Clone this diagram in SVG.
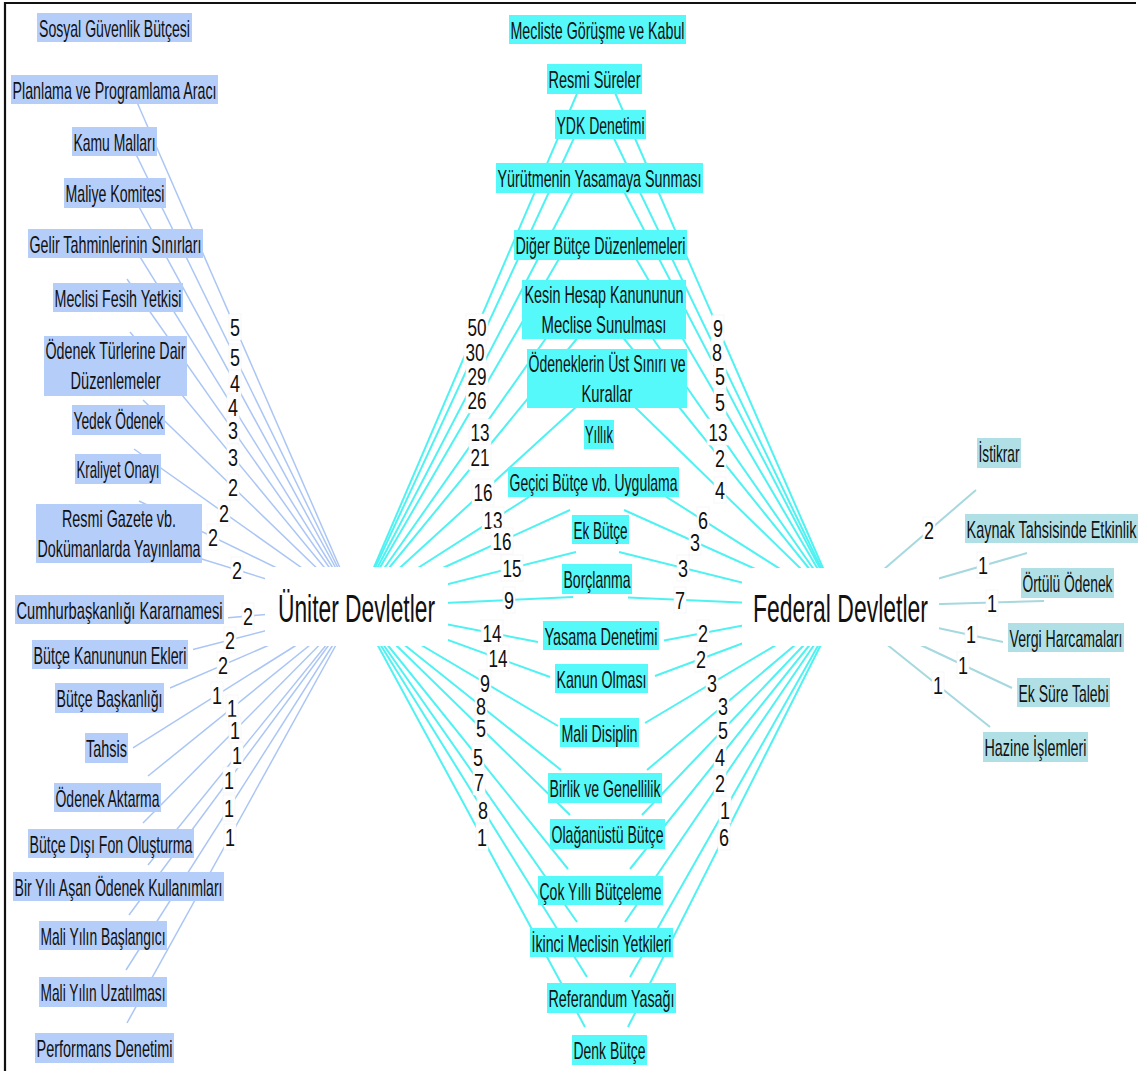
<svg xmlns="http://www.w3.org/2000/svg" width="1140" height="1071" viewBox="0 0 1140 1071">
<style>
.nl{fill:#b5cdf9}
.nc{fill:#55f9f9}
.nr{fill:#b0e0e6}
.t{font-family:"Liberation Sans",Arial,sans-serif;font-size:24px;fill:#111;text-anchor:middle}
.h{font-family:"Liberation Sans",Arial,sans-serif;font-size:39px;fill:#111;text-anchor:middle}
.el{stroke:#abc6f5;stroke-width:1.5;fill:none}
.ec{stroke:#4ff2f2;stroke-width:2;fill:none}
.er{stroke:#a6d8df;stroke-width:2;fill:none}
.lb{fill:#fff;stroke:#f0f0f0;stroke-width:0.6}
.lt{font-family:"Liberation Sans",Arial,sans-serif;font-size:24px;fill:#111;text-anchor:middle}
</style>
<rect x="0" y="0" width="1140" height="1071" fill="#fff"/>
<path d="M5,1071 V3 H1136" fill="none" stroke="#111" stroke-width="2.2"/>
<g id="connectors">
<g class="el">
<line x1="131.7" y1="90" x2="357" y2="607"/>
<line x1="130" y1="142" x2="357" y2="607"/>
<line x1="131.5" y1="193" x2="357" y2="607"/>
<line x1="132" y1="244" x2="357" y2="607"/>
<line x1="127" y1="279" x2="357" y2="607"/>
<line x1="130" y1="332" x2="357" y2="607"/>
<line x1="143" y1="400" x2="357" y2="607"/>
<line x1="134" y1="449" x2="357" y2="607"/>
<line x1="139" y1="501" x2="357" y2="607"/>
<line x1="192" y1="556" x2="357" y2="607"/>
<line x1="228" y1="617.7" x2="357" y2="607"/>
<line x1="193" y1="649.6" x2="357" y2="607"/>
<line x1="170" y1="688" x2="357" y2="607"/>
<line x1="133" y1="747.8" x2="357" y2="607"/>
<line x1="148" y1="776" x2="357" y2="607"/>
<line x1="143" y1="823" x2="357" y2="607"/>
<line x1="148" y1="865" x2="357" y2="607"/>
<line x1="129" y1="915" x2="357" y2="607"/>
<line x1="126" y1="970" x2="357" y2="607"/>
<line x1="127" y1="1023" x2="357" y2="607"/>
</g>
<g class="ec">
<line x1="583.3" y1="79" x2="357" y2="607"/>
<line x1="580.5" y1="124" x2="357" y2="607"/>
<line x1="580" y1="178" x2="357" y2="607"/>
<line x1="567" y1="245" x2="357" y2="607"/>
<line x1="572.8" y1="300" x2="357" y2="607"/>
<line x1="584" y1="330" x2="357" y2="607"/>
<line x1="583.7" y1="400" x2="357" y2="607"/>
<line x1="571" y1="470" x2="357" y2="607"/>
<line x1="570" y1="510" x2="357" y2="607"/>
<line x1="576" y1="552" x2="357" y2="607"/>
<line x1="573" y1="597" x2="357" y2="607"/>
<line x1="538" y1="642" x2="357" y2="607"/>
<line x1="550" y1="677" x2="357" y2="607"/>
<line x1="558" y1="726" x2="357" y2="607"/>
<line x1="561" y1="770" x2="357" y2="607"/>
<line x1="570" y1="815" x2="357" y2="607"/>
<line x1="568" y1="869" x2="357" y2="607"/>
<line x1="577" y1="922" x2="357" y2="607"/>
<line x1="587" y1="977" x2="357" y2="607"/>
<line x1="585" y1="1027" x2="357" y2="607"/>
<line x1="609" y1="79" x2="840" y2="607"/>
<line x1="607" y1="124" x2="840" y2="607"/>
<line x1="617" y1="178" x2="840" y2="607"/>
<line x1="628" y1="245" x2="840" y2="607"/>
<line x1="626" y1="300" x2="840" y2="607"/>
<line x1="617" y1="330" x2="840" y2="607"/>
<line x1="627.7" y1="400" x2="840" y2="607"/>
<line x1="624" y1="470" x2="840" y2="607"/>
<line x1="624" y1="510" x2="840" y2="607"/>
<line x1="619" y1="552" x2="840" y2="607"/>
<line x1="628" y1="597.5" x2="840" y2="607"/>
<line x1="664" y1="640.4" x2="840" y2="607"/>
<line x1="655" y1="676" x2="840" y2="607"/>
<line x1="645" y1="723" x2="840" y2="607"/>
<line x1="647" y1="770" x2="840" y2="607"/>
<line x1="642" y1="815" x2="840" y2="607"/>
<line x1="630" y1="869" x2="840" y2="607"/>
<line x1="625" y1="922" x2="840" y2="607"/>
<line x1="630" y1="977" x2="840" y2="607"/>
<line x1="628" y1="1027" x2="840" y2="607"/>
</g>
<g class="er">
<line x1="840" y1="607" x2="976" y2="490"/>
<line x1="840" y1="607" x2="1027" y2="553"/>
<line x1="840" y1="607" x2="1044" y2="601"/>
<line x1="840" y1="607" x2="1003" y2="642"/>
<line x1="840" y1="607" x2="1012" y2="688"/>
<line x1="840" y1="607" x2="990" y2="727"/>
</g>
</g>
<g id="hub-uniter">
<rect x="265" y="567" width="183" height="79" fill="#fff"/>
<text class="h" x="356.5" y="622" textLength="157" lengthAdjust="spacingAndGlyphs">Üniter Devletler</text>
</g>
<g id="hub-federal">
<rect x="742" y="568" width="197" height="78" fill="#fff"/>
<text class="h" x="840.5" y="622" textLength="175" lengthAdjust="spacingAndGlyphs">Federal Devletler</text>
</g>
<g id="n-sosyal"><rect class="nl" x="37" y="13" width="155" height="29"/><text class="t" x="114.5" y="36.5" textLength="151" lengthAdjust="spacingAndGlyphs">Sosyal Güvenlik Bütçesi</text></g>
<g id="n-planlama"><rect class="nl" x="11" y="75" width="207" height="29"/><text class="t" x="114.5" y="98.5" textLength="204" lengthAdjust="spacingAndGlyphs">Planlama ve Programlama Aracı</text></g>
<g id="n-kamu"><rect class="nl" x="72" y="127" width="85" height="29"/><text class="t" x="114.5" y="150.5" textLength="82" lengthAdjust="spacingAndGlyphs">Kamu Malları</text></g>
<g id="n-maliye"><rect class="nl" x="64" y="178" width="102" height="30"/><text class="t" x="115" y="201.5" textLength="99" lengthAdjust="spacingAndGlyphs">Maliye Komitesi</text></g>
<g id="n-gelir"><rect class="nl" x="28" y="229" width="175" height="29"/><text class="t" x="115.5" y="252.5" textLength="172" lengthAdjust="spacingAndGlyphs">Gelir Tahminlerinin Sınırları</text></g>
<g id="n-fesih"><rect class="nl" x="53" y="283" width="130" height="29"/><text class="t" x="118" y="306.5" textLength="127" lengthAdjust="spacingAndGlyphs">Meclisi Fesih Yetkisi</text></g>
<g id="n-odenek-turleri"><rect class="nl" x="44" y="336" width="143" height="60"/><text class="t" x="115.5" y="358.5" textLength="140" lengthAdjust="spacingAndGlyphs">Ödenek Türlerine Dair</text><text class="t" x="115.5" y="389" textLength="90" lengthAdjust="spacingAndGlyphs">Düzenlemeler</text></g>
<g id="n-yedek"><rect class="nl" x="72" y="405" width="93" height="30"/><text class="t" x="118.5" y="428.5" textLength="90" lengthAdjust="spacingAndGlyphs">Yedek Ödenek</text></g>
<g id="n-kraliyet"><rect class="nl" x="75" y="454" width="86" height="30"/><text class="t" x="118" y="477.5" textLength="83" lengthAdjust="spacingAndGlyphs">Kraliyet Onayı</text></g>
<g id="n-resmi-gazete"><rect class="nl" x="36" y="504" width="166" height="59"/><text class="t" x="119" y="527" textLength="114" lengthAdjust="spacingAndGlyphs">Resmi Gazete vb.</text><text class="t" x="119" y="557" textLength="163" lengthAdjust="spacingAndGlyphs">Dokümanlarda Yayınlama</text></g>
<g id="n-cbk"><rect class="nl" x="15" y="595" width="209" height="29"/><text class="t" x="119.5" y="618.5" textLength="206" lengthAdjust="spacingAndGlyphs">Cumhurbaşkanlığı Kararnamesi</text></g>
<g id="n-ekler"><rect class="nl" x="32" y="640" width="156" height="29"/><text class="t" x="110" y="663.5" textLength="153" lengthAdjust="spacingAndGlyphs">Bütçe Kanununun Ekleri</text></g>
<g id="n-baskanlik"><rect class="nl" x="55" y="683" width="109" height="30"/><text class="t" x="109.5" y="706.5" textLength="106" lengthAdjust="spacingAndGlyphs">Bütçe Başkanlığı</text></g>
<g id="n-tahsis"><rect class="nl" x="85" y="733" width="43" height="30"/><text class="t" x="106.5" y="756.5" textLength="41" lengthAdjust="spacingAndGlyphs">Tahsis</text></g>
<g id="n-aktarma"><rect class="nl" x="54" y="783" width="107" height="29"/><text class="t" x="107.5" y="806.5" textLength="104" lengthAdjust="spacingAndGlyphs">Ödenek Aktarma</text></g>
<g id="n-fon"><rect class="nl" x="28" y="829" width="166" height="29"/><text class="t" x="111" y="852.5" textLength="163" lengthAdjust="spacingAndGlyphs">Bütçe Dışı Fon Oluşturma</text></g>
<g id="n-bir-yil"><rect class="nl" x="13" y="872" width="211" height="29"/><text class="t" x="118.5" y="895.5" textLength="208" lengthAdjust="spacingAndGlyphs">Bir Yılı Aşan Ödenek Kullanımları</text></g>
<g id="n-baslangic"><rect class="nl" x="39" y="921" width="128" height="29"/><text class="t" x="103" y="944.5" textLength="125" lengthAdjust="spacingAndGlyphs">Mali Yılın Başlangıcı</text></g>
<g id="n-uzatilma"><rect class="nl" x="39" y="977" width="128" height="30"/><text class="t" x="103" y="1000.5" textLength="125" lengthAdjust="spacingAndGlyphs">Mali Yılın Uzatılması</text></g>
<g id="n-performans"><rect class="nl" x="35" y="1033" width="139" height="30"/><text class="t" x="104.5" y="1056.5" textLength="136" lengthAdjust="spacingAndGlyphs">Performans Denetimi</text></g>
<g id="n-mecliste"><rect class="nc" x="509" y="15" width="177" height="29"/><text class="t" x="597.5" y="38.5" textLength="174" lengthAdjust="spacingAndGlyphs">Mecliste Görüşme ve Kabul</text></g>
<g id="n-resmi-sureler"><rect class="nc" x="547" y="64" width="95" height="30"/><text class="t" x="594.5" y="87.5" textLength="92" lengthAdjust="spacingAndGlyphs">Resmi Süreler</text></g>
<g id="n-ydk"><rect class="nc" x="555" y="110" width="91" height="29"/><text class="t" x="600.5" y="133.5" textLength="88" lengthAdjust="spacingAndGlyphs">YDK Denetimi</text></g>
<g id="n-yurutme"><rect class="nc" x="496" y="163" width="207" height="30"/><text class="t" x="599.5" y="186.5" textLength="204" lengthAdjust="spacingAndGlyphs">Yürütmenin Yasamaya Sunması</text></g>
<g id="n-diger"><rect class="nc" x="514" y="230" width="173" height="30"/><text class="t" x="600.5" y="253.5" textLength="170" lengthAdjust="spacingAndGlyphs">Diğer Bütçe Düzenlemeleri</text></g>
<g id="n-kesin"><rect class="nc" x="522" y="280" width="164" height="59"/><text class="t" x="604" y="302.5" textLength="159" lengthAdjust="spacingAndGlyphs">Kesin Hesap Kanununun</text><text class="t" x="604" y="333" textLength="125" lengthAdjust="spacingAndGlyphs">Meclise Sunulması</text></g>
<g id="n-ust-sinir"><rect class="nc" x="527" y="349" width="160" height="59"/><text class="t" x="607" y="372" textLength="157" lengthAdjust="spacingAndGlyphs">Ödeneklerin Üst Sınırı ve</text><text class="t" x="607" y="402" textLength="51" lengthAdjust="spacingAndGlyphs">Kurallar</text></g>
<g id="n-yillik"><rect class="nc" x="584" y="420" width="30" height="29"/><text class="t" x="599" y="442.5" textLength="28" lengthAdjust="spacingAndGlyphs">Yıllık</text></g>
<g id="n-gecici"><rect class="nc" x="508" y="467" width="171" height="30"/><text class="t" x="593.5" y="490.5" textLength="168" lengthAdjust="spacingAndGlyphs">Geçici Bütçe vb. Uygulama</text></g>
<g id="n-ek-butce"><rect class="nc" x="572" y="515" width="57" height="29"/><text class="t" x="600.5" y="538.5" textLength="54" lengthAdjust="spacingAndGlyphs">Ek Bütçe</text></g>
<g id="n-borclanma"><rect class="nc" x="562" y="564" width="70" height="30"/><text class="t" x="597" y="587.5" textLength="67" lengthAdjust="spacingAndGlyphs">Borçlanma</text></g>
<g id="n-yasama"><rect class="nc" x="543" y="621" width="116" height="29"/><text class="t" x="601" y="644.5" textLength="113" lengthAdjust="spacingAndGlyphs">Yasama Denetimi</text></g>
<g id="n-kanun"><rect class="nc" x="555" y="664" width="93" height="29"/><text class="t" x="601.5" y="687.5" textLength="90" lengthAdjust="spacingAndGlyphs">Kanun Olması</text></g>
<g id="n-mali-disiplin"><rect class="nc" x="560" y="718" width="79" height="29"/><text class="t" x="599.5" y="741.5" textLength="76" lengthAdjust="spacingAndGlyphs">Mali Disiplin</text></g>
<g id="n-birlik"><rect class="nc" x="548" y="773" width="114" height="30"/><text class="t" x="605" y="796.5" textLength="111" lengthAdjust="spacingAndGlyphs">Birlik ve Genellilik</text></g>
<g id="n-olaganustu"><rect class="nc" x="550" y="819" width="115" height="30"/><text class="t" x="607.5" y="842.5" textLength="112" lengthAdjust="spacingAndGlyphs">Olağanüstü Bütçe</text></g>
<g id="n-cok-yilli"><rect class="nc" x="538" y="876" width="125" height="29"/><text class="t" x="600.5" y="899.5" textLength="122" lengthAdjust="spacingAndGlyphs">Çok Yıllı Bütçeleme</text></g>
<g id="n-ikinci"><rect class="nc" x="530" y="928" width="143" height="29"/><text class="t" x="601.5" y="951.5" textLength="140" lengthAdjust="spacingAndGlyphs">İkinci Meclisin Yetkileri</text></g>
<g id="n-referandum"><rect class="nc" x="547" y="983" width="129" height="30"/><text class="t" x="611.5" y="1006.5" textLength="126" lengthAdjust="spacingAndGlyphs">Referandum Yasağı</text></g>
<g id="n-denk"><rect class="nc" x="572" y="1035" width="75" height="30"/><text class="t" x="609.5" y="1058.5" textLength="72" lengthAdjust="spacingAndGlyphs">Denk Bütçe</text></g>
<g id="n-istikrar"><rect class="nr" x="977" y="438" width="44" height="30"/><text class="t" x="999" y="461.5" textLength="41" lengthAdjust="spacingAndGlyphs">İstikrar</text></g>
<g id="n-kaynak"><rect class="nr" x="965" y="514" width="173" height="29"/><text class="t" x="1051.5" y="537.5" textLength="170" lengthAdjust="spacingAndGlyphs">Kaynak Tahsisinde Etkinlik</text></g>
<g id="n-ortulu"><rect class="nr" x="1021" y="568" width="93" height="30"/><text class="t" x="1067.5" y="591.5" textLength="90" lengthAdjust="spacingAndGlyphs">Örtülü Ödenek</text></g>
<g id="n-vergi"><rect class="nr" x="1008" y="623" width="116" height="29"/><text class="t" x="1066" y="646.5" textLength="113" lengthAdjust="spacingAndGlyphs">Vergi Harcamaları</text></g>
<g id="n-ek-sure"><rect class="nr" x="1017" y="678" width="93" height="29"/><text class="t" x="1063.5" y="701.5" textLength="90" lengthAdjust="spacingAndGlyphs">Ek Süre Talebi</text></g>
<g id="n-hazine"><rect class="nr" x="983" y="732" width="105" height="30"/><text class="t" x="1035.5" y="755.5" textLength="102" lengthAdjust="spacingAndGlyphs">Hazine İşlemleri</text></g>
<g id="edge-labels">
<rect class="lb" x="229" y="314" width="12" height="26"/><text class="lt" x="235" y="335.5" textLength="10" lengthAdjust="spacingAndGlyphs">5</text>
<rect class="lb" x="229" y="344" width="12" height="26"/><text class="lt" x="235" y="365.5" textLength="10" lengthAdjust="spacingAndGlyphs">5</text>
<rect class="lb" x="229" y="370" width="12" height="26"/><text class="lt" x="235" y="391.5" textLength="10" lengthAdjust="spacingAndGlyphs">4</text>
<rect class="lb" x="227" y="394" width="12" height="26"/><text class="lt" x="233" y="415.5" textLength="10" lengthAdjust="spacingAndGlyphs">4</text>
<rect class="lb" x="227" y="417" width="12" height="26"/><text class="lt" x="233" y="438.5" textLength="10" lengthAdjust="spacingAndGlyphs">3</text>
<rect class="lb" x="227" y="444" width="12" height="26"/><text class="lt" x="233" y="465.5" textLength="10" lengthAdjust="spacingAndGlyphs">3</text>
<rect class="lb" x="227" y="474" width="12" height="26"/><text class="lt" x="233" y="495.5" textLength="10" lengthAdjust="spacingAndGlyphs">2</text>
<rect class="lb" x="218" y="500" width="12" height="26"/><text class="lt" x="224" y="521.5" textLength="10" lengthAdjust="spacingAndGlyphs">2</text>
<rect class="lb" x="207" y="524" width="12" height="26"/><text class="lt" x="213" y="545.5" textLength="10" lengthAdjust="spacingAndGlyphs">2</text>
<rect class="lb" x="231" y="557" width="12" height="26"/><text class="lt" x="237" y="578.5" textLength="10" lengthAdjust="spacingAndGlyphs">2</text>
<rect class="lb" x="242" y="603" width="12" height="26"/><text class="lt" x="248" y="624.5" textLength="10" lengthAdjust="spacingAndGlyphs">2</text>
<rect class="lb" x="224" y="627" width="12" height="26"/><text class="lt" x="230" y="648.5" textLength="10" lengthAdjust="spacingAndGlyphs">2</text>
<rect class="lb" x="217" y="652" width="12" height="26"/><text class="lt" x="223" y="673.5" textLength="10" lengthAdjust="spacingAndGlyphs">2</text>
<rect class="lb" x="211" y="682" width="12" height="26"/><text class="lt" x="217" y="703.5" textLength="10" lengthAdjust="spacingAndGlyphs">1</text>
<rect class="lb" x="226" y="695" width="12" height="26"/><text class="lt" x="232" y="716.5" textLength="10" lengthAdjust="spacingAndGlyphs">1</text>
<rect class="lb" x="229" y="717" width="12" height="26"/><text class="lt" x="235" y="738.5" textLength="10" lengthAdjust="spacingAndGlyphs">1</text>
<rect class="lb" x="231" y="742" width="12" height="26"/><text class="lt" x="237" y="763.5" textLength="10" lengthAdjust="spacingAndGlyphs">1</text>
<rect class="lb" x="223" y="767" width="12" height="26"/><text class="lt" x="229" y="788.5" textLength="10" lengthAdjust="spacingAndGlyphs">1</text>
<rect class="lb" x="223" y="795" width="12" height="26"/><text class="lt" x="229" y="816.5" textLength="10" lengthAdjust="spacingAndGlyphs">1</text>
<rect class="lb" x="224" y="824" width="12" height="26"/><text class="lt" x="230" y="845.5" textLength="10" lengthAdjust="spacingAndGlyphs">1</text>
<rect class="lb" x="466" y="314" width="22" height="26"/><text class="lt" x="477" y="335.5" textLength="19" lengthAdjust="spacingAndGlyphs">50</text>
<rect class="lb" x="464" y="339" width="22" height="26"/><text class="lt" x="475" y="360.5" textLength="19" lengthAdjust="spacingAndGlyphs">30</text>
<rect class="lb" x="466" y="363" width="22" height="26"/><text class="lt" x="477" y="384.5" textLength="19" lengthAdjust="spacingAndGlyphs">29</text>
<rect class="lb" x="466" y="387" width="22" height="26"/><text class="lt" x="477" y="408.5" textLength="19" lengthAdjust="spacingAndGlyphs">26</text>
<rect class="lb" x="469" y="419" width="22" height="26"/><text class="lt" x="480" y="440.5" textLength="19" lengthAdjust="spacingAndGlyphs">13</text>
<rect class="lb" x="469" y="444" width="22" height="26"/><text class="lt" x="480" y="465.5" textLength="19" lengthAdjust="spacingAndGlyphs">21</text>
<rect class="lb" x="472" y="479" width="22" height="26"/><text class="lt" x="483" y="500.5" textLength="19" lengthAdjust="spacingAndGlyphs">16</text>
<rect class="lb" x="482" y="507" width="22" height="26"/><text class="lt" x="493" y="528.5" textLength="19" lengthAdjust="spacingAndGlyphs">13</text>
<rect class="lb" x="491" y="528" width="22" height="26"/><text class="lt" x="502" y="549.5" textLength="19" lengthAdjust="spacingAndGlyphs">16</text>
<rect class="lb" x="501" y="555" width="22" height="26"/><text class="lt" x="512" y="576.5" textLength="19" lengthAdjust="spacingAndGlyphs">15</text>
<rect class="lb" x="503" y="587" width="12" height="26"/><text class="lt" x="509" y="608.5" textLength="10" lengthAdjust="spacingAndGlyphs">9</text>
<rect class="lb" x="481" y="620" width="22" height="26"/><text class="lt" x="492" y="641.5" textLength="19" lengthAdjust="spacingAndGlyphs">14</text>
<rect class="lb" x="487" y="645" width="22" height="26"/><text class="lt" x="498" y="666.5" textLength="19" lengthAdjust="spacingAndGlyphs">14</text>
<rect class="lb" x="479" y="670" width="12" height="26"/><text class="lt" x="485" y="691.5" textLength="10" lengthAdjust="spacingAndGlyphs">9</text>
<rect class="lb" x="475" y="693" width="12" height="26"/><text class="lt" x="481" y="714.5" textLength="10" lengthAdjust="spacingAndGlyphs">8</text>
<rect class="lb" x="475" y="715" width="12" height="26"/><text class="lt" x="481" y="736.5" textLength="10" lengthAdjust="spacingAndGlyphs">5</text>
<rect class="lb" x="472" y="744" width="12" height="26"/><text class="lt" x="478" y="765.5" textLength="10" lengthAdjust="spacingAndGlyphs">5</text>
<rect class="lb" x="473" y="769" width="12" height="26"/><text class="lt" x="479" y="790.5" textLength="10" lengthAdjust="spacingAndGlyphs">7</text>
<rect class="lb" x="477" y="797" width="12" height="26"/><text class="lt" x="483" y="818.5" textLength="10" lengthAdjust="spacingAndGlyphs">8</text>
<rect class="lb" x="476" y="824" width="12" height="26"/><text class="lt" x="482" y="845.5" textLength="10" lengthAdjust="spacingAndGlyphs">1</text>
<rect class="lb" x="712" y="315" width="12" height="26"/><text class="lt" x="718" y="336.5" textLength="10" lengthAdjust="spacingAndGlyphs">9</text>
<rect class="lb" x="711" y="339" width="12" height="26"/><text class="lt" x="717" y="360.5" textLength="10" lengthAdjust="spacingAndGlyphs">8</text>
<rect class="lb" x="714" y="363" width="12" height="26"/><text class="lt" x="720" y="384.5" textLength="10" lengthAdjust="spacingAndGlyphs">5</text>
<rect class="lb" x="714" y="389" width="12" height="26"/><text class="lt" x="720" y="410.5" textLength="10" lengthAdjust="spacingAndGlyphs">5</text>
<rect class="lb" x="707" y="419" width="22" height="26"/><text class="lt" x="718" y="440.5" textLength="19" lengthAdjust="spacingAndGlyphs">13</text>
<rect class="lb" x="714" y="445" width="12" height="26"/><text class="lt" x="720" y="466.5" textLength="10" lengthAdjust="spacingAndGlyphs">2</text>
<rect class="lb" x="714" y="477" width="12" height="26"/><text class="lt" x="720" y="498.5" textLength="10" lengthAdjust="spacingAndGlyphs">4</text>
<rect class="lb" x="697" y="507" width="12" height="26"/><text class="lt" x="703" y="528.5" textLength="10" lengthAdjust="spacingAndGlyphs">6</text>
<rect class="lb" x="689" y="529" width="12" height="26"/><text class="lt" x="695" y="550.5" textLength="10" lengthAdjust="spacingAndGlyphs">3</text>
<rect class="lb" x="677" y="555" width="12" height="26"/><text class="lt" x="683" y="576.5" textLength="10" lengthAdjust="spacingAndGlyphs">3</text>
<rect class="lb" x="674" y="587" width="12" height="26"/><text class="lt" x="680" y="608.5" textLength="10" lengthAdjust="spacingAndGlyphs">7</text>
<rect class="lb" x="697" y="620" width="12" height="26"/><text class="lt" x="703" y="641.5" textLength="10" lengthAdjust="spacingAndGlyphs">2</text>
<rect class="lb" x="695" y="646" width="12" height="26"/><text class="lt" x="701" y="667.5" textLength="10" lengthAdjust="spacingAndGlyphs">2</text>
<rect class="lb" x="706" y="670" width="12" height="26"/><text class="lt" x="712" y="691.5" textLength="10" lengthAdjust="spacingAndGlyphs">3</text>
<rect class="lb" x="717" y="693" width="12" height="26"/><text class="lt" x="723" y="714.5" textLength="10" lengthAdjust="spacingAndGlyphs">3</text>
<rect class="lb" x="717" y="717" width="12" height="26"/><text class="lt" x="723" y="738.5" textLength="10" lengthAdjust="spacingAndGlyphs">5</text>
<rect class="lb" x="714" y="744" width="12" height="26"/><text class="lt" x="720" y="765.5" textLength="10" lengthAdjust="spacingAndGlyphs">4</text>
<rect class="lb" x="714" y="770" width="12" height="26"/><text class="lt" x="720" y="791.5" textLength="10" lengthAdjust="spacingAndGlyphs">2</text>
<rect class="lb" x="719" y="797" width="12" height="26"/><text class="lt" x="725" y="818.5" textLength="10" lengthAdjust="spacingAndGlyphs">1</text>
<rect class="lb" x="718" y="824" width="12" height="26"/><text class="lt" x="724" y="845.5" textLength="10" lengthAdjust="spacingAndGlyphs">6</text>
<rect class="lb" x="923" y="517" width="12" height="26"/><text class="lt" x="929" y="538.5" textLength="10" lengthAdjust="spacingAndGlyphs">2</text>
<rect class="lb" x="977" y="552" width="12" height="26"/><text class="lt" x="983" y="573.5" textLength="10" lengthAdjust="spacingAndGlyphs">1</text>
<rect class="lb" x="986" y="590" width="12" height="26"/><text class="lt" x="992" y="611.5" textLength="10" lengthAdjust="spacingAndGlyphs">1</text>
<rect class="lb" x="965" y="621" width="12" height="26"/><text class="lt" x="971" y="642.5" textLength="10" lengthAdjust="spacingAndGlyphs">1</text>
<rect class="lb" x="957" y="652" width="12" height="26"/><text class="lt" x="963" y="673.5" textLength="10" lengthAdjust="spacingAndGlyphs">1</text>
<rect class="lb" x="932" y="672" width="12" height="26"/><text class="lt" x="938" y="693.5" textLength="10" lengthAdjust="spacingAndGlyphs">1</text>
</g>
</svg>
